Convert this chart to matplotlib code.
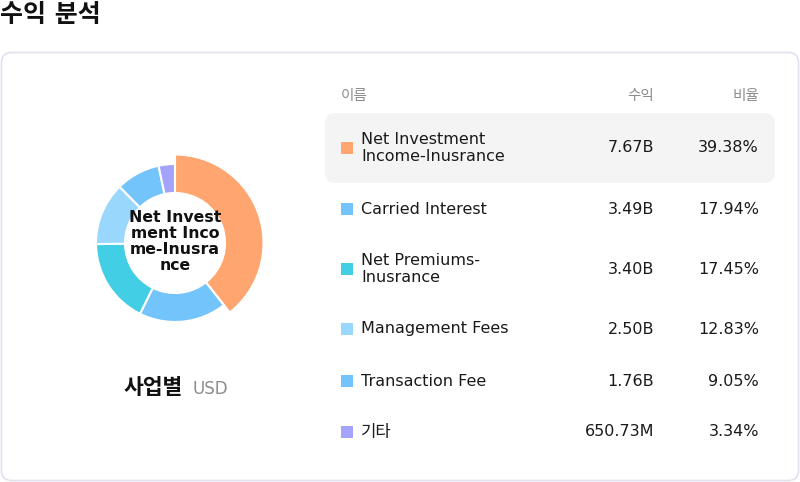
import matplotlib
matplotlib.use("Agg")
import matplotlib.pyplot as plt
from matplotlib.patches import FancyBboxPatch, Rectangle

plt.rcParams['font.family'] = ['DejaVu Sans', 'Noto Sans CJK KR']

categories = ["Net Investment\nIncome-Inusrance", "Carried Interest", "Net Premiums-\nInusrance",
              "Management Fees", "Transaction Fee", "기타"]
values = [7.67, 3.49, 3.40, 2.50, 1.76, 0.65073]
value_labels = ["7.67B", "3.49B", "3.40B", "2.50B", "1.76B", "650.73M"]
pct_labels = ["39.38%", "17.94%", "17.45%", "12.83%", "9.05%", "3.34%"]
colors = ["#FFA670", "#74C4FC", "#42CFE5", "#99D8FC", "#74C4FC", "#A3A3FB"]
center_label = "Net Invest\nment Inco\nme-Inusra\nnce"

W, H = 800, 482
fig = plt.figure(figsize=(W / 100, H / 100), dpi=100)
fig.patch.set_facecolor("white")

ov = fig.add_axes([0, 0, 1, 1])
ov.set_xlim(0, W)
ov.set_ylim(H, 0)
ov.axis("off")

# Title
ov.text(0, 15, "수익 분석", fontsize=18, fontweight="bold", ha="left", va="center", color="#111111")

# Card
ov.add_patch(FancyBboxPatch((1.5, 52.5), 797, 428, boxstyle="round,pad=0,rounding_size=10",
                            fc="white", ec="#E2E0EE", lw=1.2))

# Highlight row
ov.add_patch(FancyBboxPatch((325, 113), 450, 70, boxstyle="round,pad=0,rounding_size=10",
                            fc="#F4F4F4", ec="none"))

# Header
hdr_color = "#8C8C8C"
ov.text(341, 95.5, "이름", fontsize=10.5, color=hdr_color, ha="left", va="center")
ov.text(654, 95.5, "수익", fontsize=10.5, color=hdr_color, ha="right", va="center")
ov.text(759, 95.5, "비율", fontsize=10.5, color=hdr_color, ha="right", va="center")

row_y = [148, 209, 269, 329, 381, 432]
for i, (cat, vl, pl, c) in enumerate(zip(categories, value_labels, pct_labels, colors)):
    y = row_y[i]
    ov.add_patch(Rectangle((341, y - 6), 12, 12, fc=c, ec="none"))
    fs = 12 if cat == "기타" else 11.5
    ov.text(361, y, cat, fontsize=fs, color="#1a1a1a", ha="left", va="center", linespacing=1.22)
    ov.text(654, y, vl, fontsize=11.5, color="#1a1a1a", ha="right", va="center")
    ov.text(759, y, pl, fontsize=11.5, color="#1a1a1a", ha="right", va="center")

# Donut
cx, cy, R = 175, 243, 79.0
ext = 92
ax = fig.add_axes([(cx - ext) / W, 1 - (cy + ext) / H, 2 * ext / W, 2 * ext / H])
wedges, _ = ax.pie(values, colors=colors, startangle=90, counterclock=False, radius=1.0,
                   wedgeprops=dict(width=0.367, edgecolor="white", linewidth=1.5))
inner = 1.0 - 0.367
big = 88.5 / R
wedges[0].set_radius(big)
wedges[0].set_width(big - inner)
ax.set_xlim(-ext / R, ext / R)
ax.set_ylim(-ext / R, ext / R)
ax.set_aspect("equal")
ax.axis("off")

ax.text(0, 1.5 / R, center_label, fontsize=11.3, fontweight="bold", ha="center", va="center",
        linespacing=1.08, color="#111111", zorder=10, clip_on=False)

# Bottom label
ov.text(183, 388, "사업별", fontsize=15.5, fontweight="bold", ha="right", va="center", color="#111111")
ov.text(192, 389, "USD", fontsize=12, ha="left", va="center", color="#8C8C8C")

fig.savefig("out.png", dpi=100)
